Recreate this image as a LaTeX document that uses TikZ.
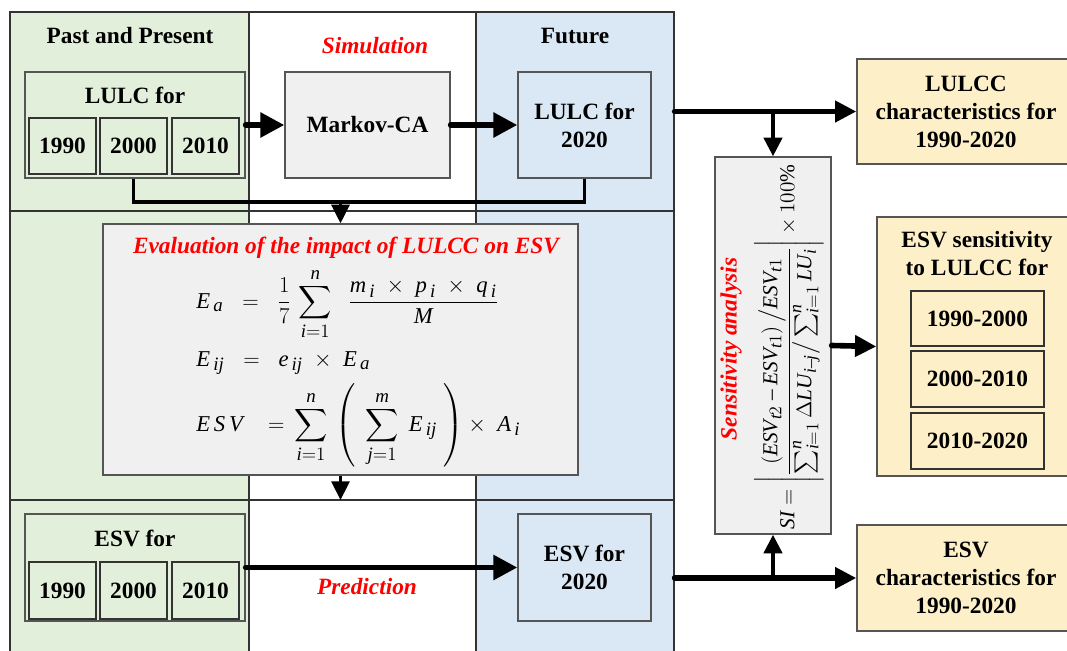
\documentclass[tikz,border=0pt]{standalone}
\usepackage{fix-cm}
\usepackage{amsmath}
\usepackage{fontspec}
\setmainfont{Liberation Serif}
\usepackage[italic]{mathastext}
\usetikzlibrary{fit,arrows.meta,calc}
\definecolor{pgreen}{HTML}{E2EFDA}
\definecolor{fblue}{HTML}{DAE8F5}
\definecolor{lgray}{HTML}{F0F0F0}
\definecolor{ltan}{HTML}{FDEFC8}
\definecolor{edgec}{HTML}{555555}
\definecolor{darkc}{HTML}{333333}
\definecolor{sred}{HTML}{FF0000}
\tikzset{
  lbl/.style={font=\fontsize{17.5}{21}\selectfont\bfseries, align=center, text=black},
  rlbl/.style={font=\fontsize{17.5}{21}\selectfont\bfseries\itshape, text=sred},
  sz/.style 2 args={minimum width=#1*0.75pt, minimum height=#2*0.75pt},
  box/.style={draw=edgec, line width=1pt, inner sep=0pt, lbl},
  ybox/.style={draw=darkc, line width=1pt, inner sep=0pt, lbl},
  col/.style={draw=darkc, line width=0.9pt, inner sep=0pt},
  frm/.style={draw=darkc, line width=0.9pt},
  fml/.style={font=\fontsize{17}{20}\selectfont, inner sep=0pt},
  bigarrow/.style={line width=4.3pt, line cap=round, -{Triangle[length=18pt,width=18pt]}},
  medarrow/.style={line width=4.2pt, line cap=round, -{Triangle[length=16pt,width=15.5pt]}},
  vertarrow/.style={line width=3.2pt, -{Triangle[length=14pt,width=13.5pt]}},
  smallarrow/.style={line width=2.3pt, -{Triangle[length=14pt,width=13.5pt]}},
  conn/.style={line width=2.3pt},
}
\begin{document}
\begin{tikzpicture}[x=0.75pt,y=-0.75pt]
\useasboundingbox (0,0) rectangle (1067,650);
% columns
\node[col, fill=pgreen, fit={(10,12) (249,660)}] (pastcol) {};
\node[col, fill=white, fit={(249,12) (476,660)}] (simcol) {};
\node[col, fill=fblue, fit={(476,12) (674,660)}] (futcol) {};
\coordinate (h1) at (0,211);
\coordinate (h2) at (0,500);
\draw[frm] (pastcol.west |- h1) -- (futcol.east |- h1);
\draw[frm] (pastcol.west |- h2) -- (futcol.east |- h2);
% headers
\node[lbl] (tpast) at (130,36) {Past and Present};
\node[rlbl] (tsim) at (375,46) {Simulation};
\node[lbl] (tfut) at (575,36) {Future};
% top row
\node[box, fill=pgreen, sz={220}{106}] (lulc) at (135,125) {};
\node[lbl] (lulcfor) at (135,95) {LULC for};
\node[ybox, fill=pgreen, sz={67}{56}] (y1) at (62.5,146) {1990};
\node[ybox, fill=pgreen, sz={67}{56}] (y2) at (133.5,146) {2000};
\node[ybox, fill=pgreen, sz={67}{56}] (y3) at (205.5,146) {2010};
\node[box, fill=lgray, sz={165}{106}] (markov) at (367.5,125) {Markov-CA};
\node[box, fill=fblue, sz={133}{106}] (l2020) at (584.5,125) {LULC for\\2020};
% evaluation box
\node[box, fill=lgray, sz={475}{251}] (eval) at (340.5,349.5) {};
\node[rlbl] (evtitle) at (346,248) {Evaluation of the impact of LULCC on ESV};
\node[fml, anchor=base west] (f1) at (196,308)
  {$E_{\,a}\;\;=\;\;\dfrac{1}{7}\,\displaystyle\sum_{i=1}^{n}\;\;\dfrac{m_{\,i}\;\times\;p_{\,i}\;\times\;q_{\,i}}{M}$};
\node[fml, anchor=base west] (f2) at (196,366)
  {$E_{\,ij}\;\;=\;\;e_{\,ij}\;\times\;E_{\,a}$};
\node[fml, anchor=base west] (f3) at (196,431)
  {$E\,S\,V\;\;\;=\,\displaystyle\sum_{i=1}^{n}\,\left(\;\,\sum_{j=1}^{m}\;E_{\,ij}\;\right)\times\;A_{\,i}$};
% bottom row
\node[box, fill=pgreen, sz={220}{107}] (esv) at (135,567.5) {};
\node[lbl] (esvfor) at (135,538) {ESV for};
\node[ybox, fill=pgreen, sz={67}{57}] (e1) at (62.5,590.5) {1990};
\node[ybox, fill=pgreen, sz={67}{57}] (e2) at (133.5,590.5) {2000};
\node[ybox, fill=pgreen, sz={67}{57}] (e3) at (205.5,590.5) {2010};
\node[box, fill=fblue, sz={133}{107}] (e2020) at (584.5,567.5) {ESV for\\2020};
\node[rlbl] (tpred) at (367,587) {Prediction};
% right side
\node[box, fill=ltan, sz={218}{105}] (lcc) at (966,111.5) {LULCC\\characteristics for\\1990-2020};
\node[box, fill=lgray, sz={116}{377}] (sens) at (773,345.5) {};
\node[rlbl, rotate=90] (senstitle) at (731,349) {Sensitivity analysis};
\node[font=\fontsize{16}{19}\selectfont, rotate=90, inner sep=0pt] (sensf) at (789,347)
  {$SI=\left|\dfrac{\left(ESV_{t2}-ESV_{t1}\right)\big/ESV_{t1}}{\sum_{i=1}^{n}\Delta LU_{i-j}\big/\sum_{i=1}^{n}LU_{i}}\right|\times100\%$};
\node[box, fill=ltan, sz={200}{259}] (esvsens) at (977,346.5) {};
\node[lbl] (esvsenslbl) at (977,254) {ESV sensitivity\\to LULCC for};
\node[ybox, fill=ltan, sz={133}{55}] (s1) at (977.5,318.5) {1990-2000};
\node[ybox, fill=ltan, sz={133}{56}] (s2) at (977.5,379) {2000-2010};
\node[ybox, fill=ltan, sz={133}{56}] (s3) at (977.5,441) {2010-2020};
\node[box, fill=ltan, sz={218}{106}] (esvc) at (966,578) {ESV\\characteristics for\\1990-2020};
% connectors
\coordinate (jn) at (341,202);
\draw[bigarrow] (lulc.east) -- (markov.west);
\draw[bigarrow] (markov.east) -- (l2020.west);
\draw[conn] (y2.south |- lulc.south) -- (y2.south |- jn) -- (l2020.south |- jn) -- (l2020.south);
\draw[smallarrow] (eval.north |- jn) -- (eval.north);
\draw[smallarrow] (eval.south) -- (eval.south |- h2);
\draw[bigarrow] (esv.east) -- (e2020.west);
\draw[medarrow] (futcol.east |- lcc.west) -- (lcc.west);
\draw[vertarrow] (sens.north |- lcc.west) -- (sens.north);
\draw[medarrow] (sens.east) -- (esvsens.west);
\draw[medarrow] (futcol.east |- esvc.west) -- (esvc.west);
\draw[vertarrow] (sens.south |- esvc.west) -- (sens.south);
\end{tikzpicture}
\end{document}
